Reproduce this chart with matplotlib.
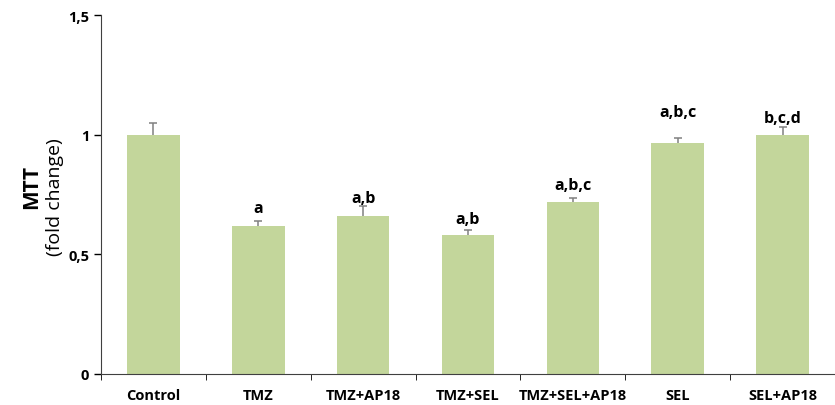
import matplotlib.pyplot as plt
import numpy as np

groups = ['Control', 'TMZ', 'TMZ+AP18', 'TMZ+SEL', 'TMZ+SEL+AP18', 'SEL', 'SEL+AP18']
mtt = [1.00, 0.618, 0.662, 0.58, 0.72, 0.965, 1.00]
err = [0.05, 0.02, 0.04, 0.02, 0.015, 0.02, 0.032]
letters = ['', 'a', 'a,b', 'a,b', 'a,b,c', 'a,b,c', 'b,c,d']
# gap between error bar top and letter baseline, as placed in the original
letter_gap = [0, 0.038, 0.017, 0.033, 0.038, 0.092, 0.021]

plt.rcParams['font.family'] = ['Open Sans', 'DejaVu Sans']

fig = plt.figure(figsize=(8.35, 4.06), dpi=100)
ax = fig.add_axes([101 / 835, 31 / 406, 734 / 835, 359 / 406])

x = np.arange(len(groups))
ax.bar(x, mtt, width=0.5, color='#c3d69b', zorder=2)
# lower part hidden behind the bars so only the upper whisker shows
ax.errorbar(x, mtt, yerr=[np.full(len(err), 0.02), err], fmt='none', ecolor='#808080',
            elinewidth=1.1, capsize=3, capthick=1.1, zorder=1)

for xi, m, e, t, g in zip(x, mtt, err, letters, letter_gap):
    if t:
        ax.text(xi, m + e + g, t, ha='center', va='baseline', fontsize=11.5, fontweight='bold')

ax.set_xlim(-0.5, 6.36)
ax.set_ylim(0, 1.5)
ax.set_yticks([0, 0.5, 1, 1.5])
ax.set_yticklabels(['0', '0,5', '1', '1,5'], fontweight='bold', fontsize=10.5)
ax.set_xticks(x)
ax.set_xticklabels(groups, fontweight='bold', fontsize=10.5)
ax.tick_params(axis='x', length=0, pad=10)
ax.set_xticks(np.arange(-0.5, 7, 1), minor=True)
ax.tick_params(axis='x', which='minor', length=4, direction='out')
ax.tick_params(axis='y', length=5, direction='out', width=1)

for s in ['top', 'right']:
    ax.spines[s].set_visible(False)
for s in ['left', 'bottom']:
    ax.spines[s].set_color('#404040')

fig.text(32 / 835, 1 - 187 / 406, 'MTT', rotation=90, ha='center', va='center',
         fontsize=15, fontweight='bold')
fig.text(55 / 835, 1 - 197 / 406, '(fold change)', rotation=90, ha='center', va='center',
         fontsize=14)

fig.savefig('out.png', dpi=100)
